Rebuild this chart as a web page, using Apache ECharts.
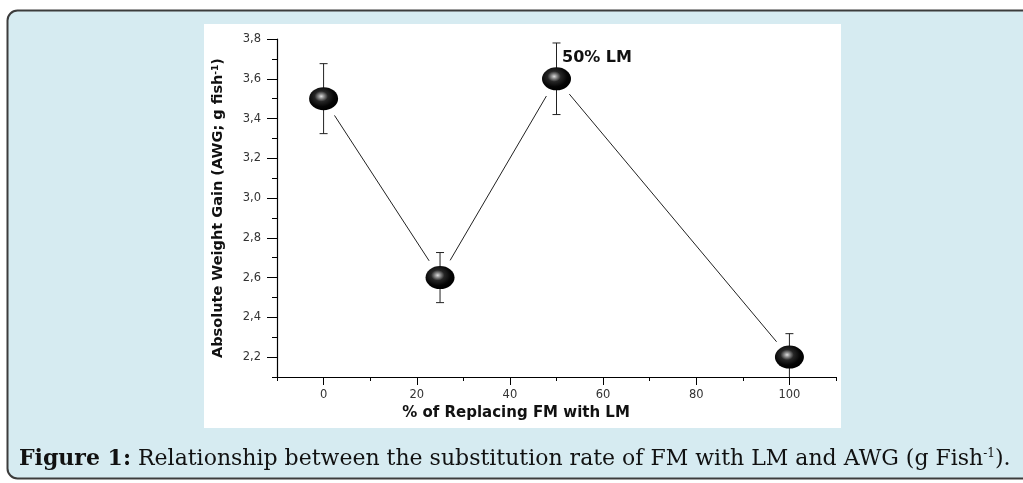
<!DOCTYPE html>
<html>
<head>
<meta charset="utf-8">
<script src="https://cdn.jsdelivr.net/npm/echarts@6/dist/echarts.min.js"></script>
<style>
  html, body { margin: 0; padding: 0; background: #ffffff; }
  #chart { width: 1023px; height: 483px; }
</style>
</head>
<body>
<div id="chart"></div>
<script>
// ---- data ----
const replacingPct = [0, 25, 50, 100];          // % of replacing FM with LM
const awgValues = [3.5, 2.6, 3.6, 2.2];          // Absolute Weight Gain
const awgErrors = [0.176, 0.126, 0.18, 0.118];   // error bar half-lengths
const pointLabels = ['', '', '50% LM', ''];
const xMajorTicks = [0, 20, 40, 60, 80, 100];
const xMinorTicks = [-10, 10, 30, 50, 70, 90, 110];
const yMajorTicks = [2.2, 2.4, 2.6, 2.8, 3.0, 3.2, 3.4, 3.6, 3.8];
const yMinorTicks = [2.1, 2.3, 2.5, 2.7, 2.9, 3.1, 3.3, 3.5, 3.7];
const xTitle = '% of Replacing FM with LM';
const yTitle = 'Absolute Weight Gain (AWG; g fish{sup|-1})';
const captionText = '{b|Figure 1:} Relationship between the substitution rate of FM with LM and AWG (g Fish{sup|-1}).';

// ---- derived tables ----
const scatterData = replacingPct.map((x, i) => ({
  value: [x, awgValues[i]],
  label: pointLabels[i] ? { show: true, formatter: pointLabels[i] } : { show: false }
}));
const errorData = replacingPct.map((x, i) => [x, awgValues[i] - awgErrors[i], awgValues[i] + awgErrors[i]]);
const segData = [];
for (let i = 0; i < replacingPct.length - 1; i++) {
  segData.push([replacingPct[i], awgValues[i], replacingPct[i + 1], awgValues[i + 1]]);
}

const sans = 'DejaVu Sans, Arial, sans-serif';
const tickFont = 'DejaVu Sans, Arial, sans-serif';
const serif = 'DejaVu Serif, Liberation Serif, serif';
const chart = echarts.init(document.getElementById('chart'), null, { renderer: 'canvas' });

const sphere = {
  type: 'radial', x: 0.42, y: 0.4, r: 0.6,
  colorStops: [
    { offset: 0, color: '#dcdcdc' },
    { offset: 0.16, color: '#8c8c8c' },
    { offset: 0.38, color: '#262626' },
    { offset: 0.75, color: '#050505' },
    { offset: 1, color: '#000000' }
  ]
};

const option = {
  animation: false,
  graphic: [
    { type: 'rect', z: -20, silent: true,
      shape: { x: 7.5, y: 10.5, width: 1100, height: 468, r: 10 },
      style: { fill: '#d6ebf1', stroke: '#3c3c3c', lineWidth: 2 } },
    { type: 'rect', z: -19, silent: true,
      shape: { x: 204, y: 24, width: 637, height: 404 },
      style: { fill: '#ffffff' } },
    { type: 'text', z: 10, silent: true, x: 19, y: 459,
      style: {
        text: captionText,
        fontFamily: serif,
        fontSize: 22, fill: '#111111',
        verticalAlign: 'middle', align: 'left',
        rich: {
          b: { fontFamily: serif, fontSize: 22, fontWeight: 'bold', fill: '#111111' },
          sup: { fontFamily: serif, fontSize: 12, verticalAlign: 'top', fill: '#111111' }
        }
      } }
  ],
  grid: { left: 277, right: 187, top: 39, bottom: 106, containLabel: false },
  xAxis: [
    {
      type: 'value', min: -10, max: 110, interval: 10,
      name: xTitle, nameLocation: 'middle', nameGap: 24,
      nameTextStyle: { fontFamily: sans, fontWeight: 'bold', fontSize: 15, color: '#111', padding: [0, 81, 0, 0] },
      axisLine: { show: true, onZero: false, lineStyle: { color: '#000', width: 1.2 } },
      axisTick: { show: true, customValues: xMinorTicks, length: 4, lineStyle: { color: '#000', width: 1 } },
      axisLabel: { show: true, customValues: xMajorTicks, margin: 12, fontFamily: tickFont, fontSize: 11.5, color: '#333',
        formatter: v => String(v) },
      splitLine: { show: false }
    },
    {
      type: 'value', min: -10, max: 110, interval: 10, position: 'bottom',
      axisLine: { show: false, onZero: false },
      axisTick: { show: true, customValues: xMajorTicks, length: 8, lineStyle: { color: '#000', width: 1 } },
      axisLabel: { show: false },
      splitLine: { show: false }
    }
  ],
  yAxis: [
    {
      type: 'value', min: 2.1, max: 3.8, interval: 0.1,
      name: yTitle, nameLocation: 'middle', nameGap: 51,
      nameTextStyle: { fontFamily: sans, fontWeight: 'bold', fontSize: 14.5, color: '#111', padding: [0, 0, 0, 0],
        rich: { sup: { fontFamily: sans, fontWeight: 'bold', fontSize: 9, verticalAlign: 'top', color: '#111' } } },
      axisLine: { show: true, onZero: false, lineStyle: { color: '#000', width: 1.2 } },
      axisTick: { show: true, customValues: yMinorTicks, length: 5, lineStyle: { color: '#000', width: 1 } },
      axisLabel: { show: true, customValues: yMajorTicks, margin: 16, fontFamily: tickFont, fontSize: 11.5, color: '#333',
        formatter: v => v.toFixed(1).replace('.', ',') },
      splitLine: { show: false }
    },
    {
      type: 'value', min: 2.1, max: 3.8, interval: 0.1, position: 'left',
      axisLine: { show: false, onZero: false },
      axisTick: { show: true, customValues: yMajorTicks, length: 10, lineStyle: { color: '#000', width: 1 } },
      axisLabel: { show: false },
      splitLine: { show: false }
    }
  ],
  series: [
    {
      type: 'custom', name: 'connect', z: 1, silent: true,
      encode: { x: [0, 2], y: [1, 3] },
      data: segData,
      renderItem: function (params, api) {
        const p1 = api.coord([api.value(0), api.value(1)]);
        const p2 = api.coord([api.value(2), api.value(3)]);
        const dx = p2[0] - p1[0], dy = p2[1] - p1[1];
        const len = Math.sqrt(dx * dx + dy * dy);
        const gap = 20;
        const ux = dx / len, uy = dy / len;
        return {
          type: 'line',
          shape: { x1: p1[0] + ux * gap, y1: p1[1] + uy * gap, x2: p2[0] - ux * gap, y2: p2[1] - uy * gap },
          style: { stroke: '#222', lineWidth: 1 }
        };
      }
    },
    {
      type: 'custom', name: 'error', z: 2, silent: true, clip: true,
      encode: { x: 0, y: [1, 2] },
      data: errorData,
      renderItem: function (params, api) {
        const lo = api.coord([api.value(0), api.value(1)]);
        const hi = api.coord([api.value(0), api.value(2)]);
        const hw = 4;
        const st = { stroke: '#222', lineWidth: 1 };
        return {
          type: 'group',
          children: [
            { type: 'line', shape: { x1: lo[0], y1: lo[1], x2: hi[0], y2: hi[1] }, style: st },
            { type: 'line', shape: { x1: hi[0] - hw, y1: hi[1], x2: hi[0] + hw, y2: hi[1] }, style: st },
            { type: 'line', shape: { x1: lo[0] - hw, y1: lo[1], x2: lo[0] + hw, y2: lo[1] }, style: st }
          ]
        };
      }
    },
    {
      type: 'scatter', name: 'AWG', z: 5,
      symbol: 'circle', symbolSize: [29, 23],
      itemStyle: { color: sphere, opacity: 1 },
      label: {
        position: [20, -9], align: 'left', verticalAlign: 'middle',
        fontFamily: sans, fontWeight: 'bold', fontSize: 16, color: '#111'
      },
      data: scatterData
    }
  ]
};
chart.setOption(option);
</script>
</body>
</html>
